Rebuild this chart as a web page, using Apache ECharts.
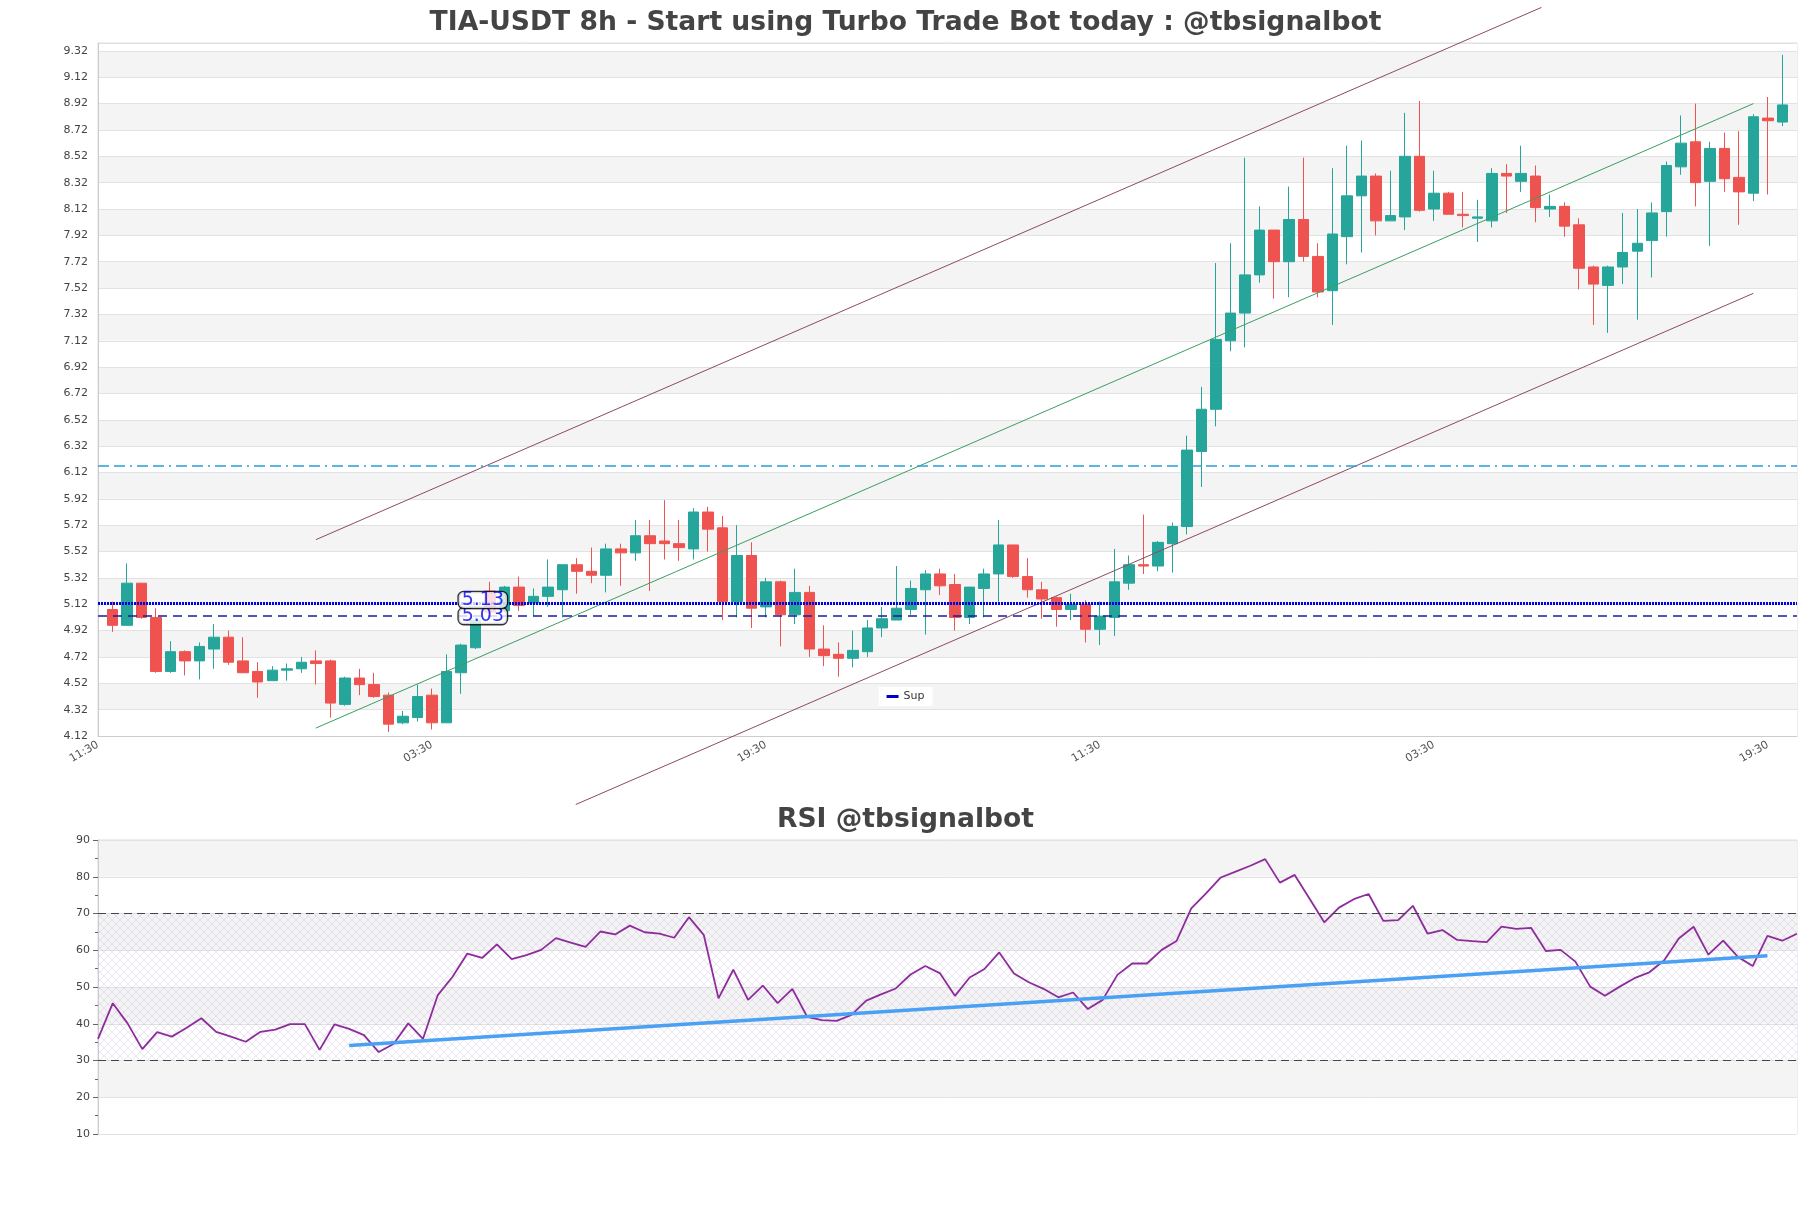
<!DOCTYPE html>
<html><head><meta charset="utf-8">
<script src="https://cdn.jsdelivr.net/npm/echarts@6/dist/echarts.min.js"></script>
<style>html,body{margin:0;padding:0;background:#fff}#c{width:1811px;height:1208px}</style>
</head><body><div id="c"></div>
<script>
// ---- data ----
const timeCycle = ['11:30', '19:30', '03:30'];
// [open, close, low, high]
const candles = [
[5.08,4.96,4.91,5.14],[4.96,5.28,4.96,5.43],[5.28,5.02,5.01,5.28],[5.02,4.61,4.60,5.09],[4.61,4.76,4.60,4.84],
[4.76,4.69,4.58,4.77],[4.69,4.80,4.55,4.83],[4.78,4.87,4.63,4.97],[4.87,4.68,4.66,4.92],[4.69,4.60,4.60,4.87],
[4.61,4.53,4.41,4.68],[4.54,4.62,4.54,4.65],[4.62,4.63,4.54,4.67],[4.63,4.68,4.60,4.72],[4.69,4.67,4.51,4.77],
[4.69,4.37,4.26,4.70],[4.36,4.56,4.35,4.57],[4.56,4.51,4.43,4.63],[4.51,4.42,4.41,4.60],[4.43,4.21,4.15,4.45],
[4.22,4.27,4.21,4.31],[4.26,4.42,4.23,4.51],[4.43,4.22,4.17,4.48],[4.22,4.61,4.22,4.74],[4.60,4.81,4.44,4.82],
[4.79,5.00,4.78,5.02],[5.22,5.06,5.04,5.29],[5.07,5.25,5.06,5.26],[5.25,5.11,5.07,5.33],[5.13,5.18,5.03,5.24],
[5.18,5.25,5.10,5.46],[5.23,5.42,5.02,5.42],[5.42,5.37,5.20,5.47],[5.37,5.34,5.28,5.55],[5.34,5.54,5.21,5.58],
[5.54,5.51,5.26,5.58],[5.51,5.64,5.45,5.76],[5.64,5.58,5.22,5.76],[5.60,5.58,5.46,5.91],[5.58,5.55,5.45,5.76],
[5.54,5.82,5.46,5.85],[5.82,5.69,5.52,5.86],[5.70,5.14,5.00,5.79],[5.14,5.49,5.02,5.72],[5.49,5.09,4.94,5.59],
[5.10,5.29,5.02,5.32],[5.29,5.04,4.80,5.30],[5.04,5.21,4.97,5.39],[5.21,4.78,4.72,5.26],[4.78,4.73,4.65,4.96],
[4.74,4.71,4.57,4.83],[4.71,4.77,4.64,4.92],[4.76,4.94,4.72,5.00],[4.94,5.01,4.87,5.10],[5.00,5.09,5.00,5.41],
[5.08,5.24,5.04,5.30],[5.23,5.35,4.89,5.38],[5.35,5.26,5.19,5.39],[5.27,5.02,4.92,5.35],[5.02,5.25,4.97,5.25],
[5.24,5.35,5.02,5.39],[5.35,5.57,5.14,5.76],[5.57,5.33,5.32,5.57],[5.33,5.23,5.17,5.47],[5.23,5.16,5.01,5.29],
[5.17,5.08,4.95,5.18],[5.08,5.12,5.00,5.20],[5.12,4.93,4.83,5.15],[4.93,5.03,4.81,5.14],[5.02,5.29,4.88,5.54],
[5.28,5.42,5.23,5.49],[5.42,5.41,5.35,5.80],[5.41,5.59,5.37,5.60],[5.58,5.71,5.36,5.74],[5.71,6.29,5.65,6.40],
[6.28,6.60,6.01,6.77],[6.60,7.13,6.47,7.71],[7.12,7.33,7.04,7.86],[7.33,7.62,7.07,8.51],[7.62,7.96,7.56,8.14],
[7.96,7.72,7.44,7.96],[7.72,8.04,7.45,8.29],[8.04,7.76,7.72,8.51],[7.76,7.49,7.45,7.86],[7.50,7.93,7.24,8.43],
[7.91,8.22,7.70,8.60],[8.22,8.37,7.79,8.64],[8.37,8.03,7.92,8.39],[8.03,8.07,8.03,8.41],[8.06,8.52,7.96,8.85],
[8.52,8.11,8.10,8.94],[8.12,8.24,8.03,8.41],[8.24,8.08,8.08,8.25],[8.08,8.07,7.98,8.25],[8.05,8.06,7.87,8.19],
[8.03,8.39,7.98,8.43],[8.39,8.37,8.09,8.46],[8.33,8.39,8.25,8.60],[8.37,8.13,8.02,8.45],[8.12,8.14,8.06,8.23],
[8.14,7.99,7.91,8.17],[8.00,7.67,7.51,8.05],[7.68,7.55,7.24,7.69],[7.54,7.68,7.18,7.69],[7.68,7.79,7.55,8.09],
[7.80,7.86,7.28,8.12],[7.88,8.09,7.60,8.17],[8.10,8.45,7.91,8.48],[8.44,8.62,8.38,8.83],[8.63,8.32,8.14,8.92],
[8.33,8.58,7.84,8.63],[8.58,8.35,8.25,8.70],[8.36,8.25,8.00,8.71],[8.24,8.82,8.18,8.84],[8.81,8.79,8.23,8.97],
[8.78,8.91,8.75,9.29]
];
const rsiValues = [
35.9,45.6,40.1,33.1,37.7,36.5,38.9,41.5,37.8,36.5,
35.1,37.8,38.4,39.9,39.9,32.9,39.8,38.6,36.9,32.3,
34.5,40.1,35.9,47.8,52.8,59.1,57.9,61.6,57.6,58.7,
60.1,63.3,62.1,60.9,65.1,64.3,66.7,64.9,64.5,63.4,
69.0,64.2,46.9,54.7,46.5,50.4,45.6,49.5,41.9,41.0,
40.8,42.4,46.3,48.0,49.6,53.4,55.7,53.7,47.6,52.6,
54.9,59.4,53.7,51.3,49.5,47.2,48.5,44.0,46.5,53.3,
56.4,56.4,60.1,62.5,71.4,75.5,79.8,81.4,83.0,84.8,
78.4,80.5,74.1,67.6,71.6,73.9,75.3,68.0,68.2,72.1,
64.5,65.5,62.8,62.5,62.2,66.4,65.8,66.1,59.8,60.1,
56.9,50.1,47.6,50.1,52.4,54.0,57.2,63.2,66.4,58.8,
62.6,58.2,55.7,63.9,62.6,64.5
];
const supLevels = [5.13, 5.03];
const resistLevel = 6.17;
const channelMid = [[15, 4.18], [114, 8.92]];
const channelUp = [[15, 5.61], [99.4, 9.65]];
const channelLow = [[32.9, 3.60], [114, 7.48]];
const supLabelAt = 26.5;
const rsiTrend = [[17, 34.1], [113, 58.5]];
const rsiBand = [30, 70];
const priceMin = 4.12, priceMax = 9.38, priceStep = 0.2;

// ---- build ----
const categories = [];
for (let i = 0; i < candles.length + 2; i++) categories.push(timeCycle[i % 3]);
const candleSeriesData = ['-'].concat(candles).concat(['-']);
const rsiCats = rsiValues.map((v, i) => String(i));

const pc = document.createElement('canvas');
pc.width = 8; pc.height = 8;
const g = pc.getContext('2d');
g.strokeStyle = 'rgba(180,160,210,0.38)';
g.lineWidth = 0.7;
g.beginPath(); g.moveTo(0, 0); g.lineTo(8, 8); g.moveTo(8, 0); g.lineTo(0, 8); g.stroke();

const chart = echarts.init(document.getElementById('c'), null, {renderer: 'canvas'});
const font = 'DejaVu Sans';
const option = {
  animation: false,
  backgroundColor: '#fff',
  textStyle: {fontFamily: font},
  title: [
    {text: 'TIA-USDT 8h - Start using Turbo Trade Bot today : @tbsignalbot', left: 'center', top: 10, padding: 0,
     textStyle: {fontFamily: font, fontSize: 26.6, fontWeight: 'bold', color: '#444'}},
    {text: 'RSI @tbsignalbot', left: 'center', top: 807, padding: 0,
     textStyle: {fontFamily: font, fontSize: 26.6, fontWeight: 'bold', color: '#444'}}
  ],
  legend: {
    data: [{name: 'Sup', icon: 'rect'}], left: 'center', top: 687, itemWidth: 12, itemHeight: 3,
    backgroundColor: '#fff', padding: [4, 8], textStyle: {fontFamily: font, fontSize: 11, color: '#333'}
  },
  grid: [
    {left: 98, right: 14, top: 43, height: 693, show: true, borderColor: '#ddd', borderWidth: 1},
    {left: 98, right: 14, top: 840, height: 294, show: true, borderColor: '#ddd', borderWidth: 1}
  ],
  xAxis: [
    {type: 'category', gridIndex: 0, data: categories, boundaryGap: false,
     axisLine: {lineStyle: {color: '#ccc'}}, axisTick: {show: false},
     axisLabel: {interval: 22, rotate: 30, fontSize: 11, color: '#555', margin: 8},
     splitLine: {show: false}},
    {type: 'value', gridIndex: 0, min: 0, max: categories.length - 1, show: false},
    {type: 'category', gridIndex: 1, data: rsiCats, boundaryGap: false,
     axisLine: {show: false}, axisTick: {show: false}, axisLabel: {show: false}}
  ],
  yAxis: [
    {type: 'value', gridIndex: 0, min: priceMin, max: priceMax, interval: priceStep, scale: true,
     axisLine: {show: true, lineStyle: {color: '#ccc'}}, axisTick: {show: false},
     axisLabel: {fontSize: 11, color: '#444', margin: 10, showMaxLabel: false,
                 formatter: v => v.toFixed(2)},
     splitLine: {lineStyle: {color: '#e2e2e2'}},
     splitArea: {show: true, areaStyle: {color: ['#ffffff', '#f4f4f4']}}},
    {type: 'value', gridIndex: 1, min: 10, max: 90, interval: 10,
     axisLine: {show: true, lineStyle: {color: '#ccc'}},
     axisTick: {show: true, length: 5, lineStyle: {color: '#666'}},
     minorTick: {show: true, splitNumber: 2, length: 3, lineStyle: {color: '#666'}},
     axisLabel: {fontSize: 11, color: '#444', margin: 8},
     splitLine: {lineStyle: {color: '#e2e2e2'}},
     splitArea: {show: true, areaStyle: {color: ['#ffffff', '#f4f4f4']}}}
  ],
  series: [
    {type: 'candlestick', name: 'price', xAxisIndex: 0, yAxisIndex: 0, data: candleSeriesData, barWidth: 11,
     itemStyle: {color: '#26a69a', color0: '#ef5350', borderColor: '#26a69a', borderColor0: '#ef5350', borderWidth: 1},
     markLine: {silent: true, symbol: 'none', label: {show: false},
       data: [{yAxis: resistLevel, lineStyle: {color: '#2a9fd6', width: 1.5, type: [11, 5, 11, 5, 2, 5]}}]}},
    {type: 'line', name: 'Sup', xAxisIndex: 0, yAxisIndex: 0, data: [], color: '#0000c8',
     markLine: {silent: true, symbol: 'none', label: {show: false},
       data: [
         {yAxis: supLevels[0], lineStyle: {color: '#0000e0', width: 3, type: [2, 1]}},
         {yAxis: supLevels[1], lineStyle: {color: '#1c1ca0', width: 1.5, type: [9, 6]}}
       ]}},
    {type: 'line', name: 'chMid', xAxisIndex: 1, yAxisIndex: 0, data: channelMid, symbol: 'none', clip: false,
     lineStyle: {color: '#3a9e62', width: 1}, z: 3},
    {type: 'line', name: 'chUp', xAxisIndex: 1, yAxisIndex: 0, data: channelUp, symbol: 'none', clip: false,
     lineStyle: {color: '#8e4a62', width: 1}, z: 3},
    {type: 'line', name: 'chLow', xAxisIndex: 1, yAxisIndex: 0, data: channelLow, symbol: 'none', clip: false,
     lineStyle: {color: '#8e4a62', width: 1}, z: 3},
    {type: 'scatter', name: 'supLabels', xAxisIndex: 1, yAxisIndex: 0, z: 10, symbolSize: 1,
     itemStyle: {color: 'rgba(0,0,0,0)'},
     data: [
       {value: [supLabelAt, supLevels[1]], label: {offset: [0, 0]}},
       {value: [supLabelAt, supLevels[0]], label: {offset: [0, -3]}}
     ],
     label: {show: true, position: 'inside', formatter: p => p.value[1].toFixed(2),
       fontFamily: font, fontSize: 19, lineHeight: 15, color: '#0000ee', backgroundColor: '#fff',
       borderColor: '#000', borderWidth: 1.3, borderRadius: 5, padding: [1, 3, 0, 3]}},
    {type: 'line', name: 'RSI', xAxisIndex: 2, yAxisIndex: 1, data: rsiValues, symbol: 'none',
     lineStyle: {color: '#8e2c9c', width: 1.8},
     markArea: {silent: true, itemStyle: {color: {image: pc, repeat: 'repeat'}},
       data: [[{yAxis: rsiBand[0]}, {yAxis: rsiBand[1]}]]},
     markLine: {silent: true, symbol: 'none', label: {show: false},
       data: [
         {yAxis: rsiBand[1], lineStyle: {color: '#444', width: 1.2, type: [8, 5]}},
         {yAxis: rsiBand[0], lineStyle: {color: '#444', width: 1.2, type: [8, 5]}},
         [{coord: rsiTrend[0], lineStyle: {color: '#4aa0f2', width: 3.5, type: 'solid'}}, {coord: rsiTrend[1]}]
       ]}}
  ]
};
chart.setOption(option);
</script></body></html>
